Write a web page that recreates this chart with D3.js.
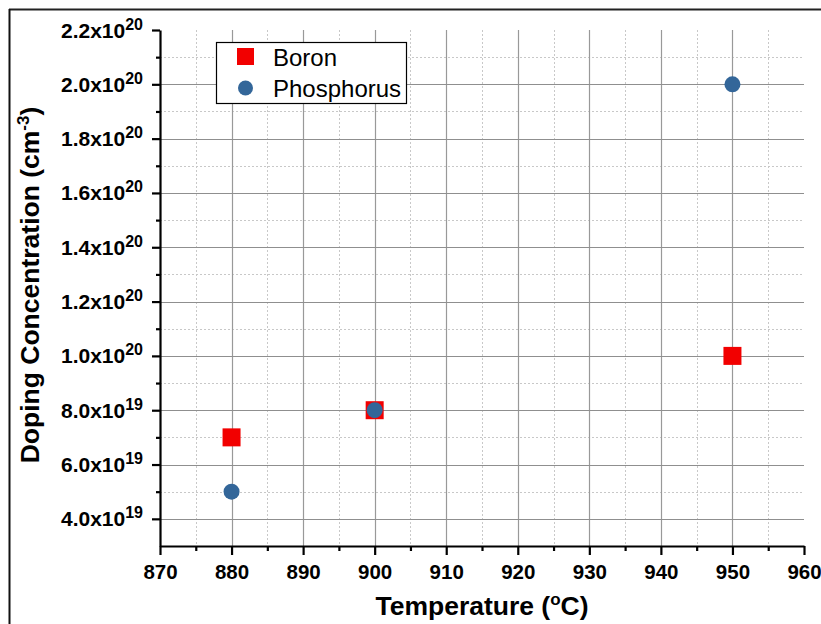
<!DOCTYPE html>
<html><head><meta charset="utf-8">
<script src="https://cdn.jsdelivr.net/npm/d3@7"></script>
<style>
html,body{margin:0;padding:0;background:#fff;}
svg{display:block;font-family:"Liberation Sans",Arial,sans-serif;}
</style></head>
<body>
<script>
// ---- data ----
const temperatures = [880, 900, 950];
const boronValues = [7.0e19, 8.0e19, 1.0e20];
const phosphorusValues = [5.0e19, 8.0e19, 2.0e20];
const seriesNames = ["Boron", "Phosphorus"];
const xTickValues = [870, 880, 890, 900, 910, 920, 930, 940, 950, 960];
const xMinorTicks = [875, 885, 895, 905, 915, 925, 935, 945, 955];
const yTickValues = [4e19, 6e19, 8e19, 1e20, 1.2e20, 1.4e20, 1.6e20, 1.8e20, 2.0e20, 2.2e20];
const yMinorTicks = [5e19, 7e19, 9e19, 1.1e20, 1.3e20, 1.5e20, 1.7e20, 1.9e20, 2.1e20];
const xTitle = "Temperature (";
const yTitle = "Doping Concentration (cm";

const W = 821, H = 624;
const svg = d3.select("body").append("svg").attr("width", W).attr("height", H);
svg.append("rect").attr("width", W).attr("height", H).attr("fill", "#fff");

// outer frame (cropped figure border)
svg.append("line").attr("x1", 9).attr("x2", W).attr("y1", 9.5).attr("y2", 9.5).attr("stroke", "#222").attr("stroke-width", 2);
svg.append("line").attr("x1", 9.5).attr("x2", 9.5).attr("y1", 9).attr("y2", H).attr("stroke", "#111").attr("stroke-width", 2);

const x = d3.scaleLinear().domain([870, 960]).range([160, 804]);
const y = d3.scaleLinear().domain([3e19, 2.2e20]).range([546, 30]);

const grid = svg.append("g");
// minor grid
grid.selectAll(".vmin").data(xMinorTicks).join("line")
  .attr("x1", d => Math.round(x(d)) + 0.5).attr("x2", d => Math.round(x(d)) + 0.5)
  .attr("y1", y.range()[1]).attr("y2", y.range()[0])
  .attr("stroke", "#c8c8c8").attr("stroke-width", 1).attr("stroke-dasharray", "2,2");
grid.selectAll(".hmin").data(yMinorTicks).join("line")
  .attr("x1", x.range()[0]).attr("x2", x.range()[1])
  .attr("y1", d => Math.round(y(d)) + 0.5).attr("y2", d => Math.round(y(d)) + 0.5)
  .attr("stroke", "#c8c8c8").attr("stroke-width", 1).attr("stroke-dasharray", "2,2");
// major grid
grid.selectAll(".vmaj").data(xTickValues.slice(1, -1)).join("line")
  .attr("x1", d => Math.round(x(d)) + 0.5).attr("x2", d => Math.round(x(d)) + 0.5)
  .attr("y1", y.range()[1]).attr("y2", y.range()[0])
  .attr("stroke", "#999").attr("stroke-width", 1.2);
grid.selectAll(".hmaj").data(yTickValues.slice(0, -1)).join("line")
  .attr("x1", x.range()[0]).attr("x2", x.range()[1])
  .attr("y1", d => Math.round(y(d)) + 0.5).attr("y2", d => Math.round(y(d)) + 0.5)
  .attr("stroke", "#8f8f8f").attr("stroke-width", 1.2);

// axes
const xAxis = svg.append("g").attr("transform", "translate(0,546)")
  .call(d3.axisBottom(x).tickValues(xTickValues).tickSize(9).tickSizeOuter(0).tickFormat(d3.format("d")));
svg.append("g").attr("transform", "translate(0,546)")
  .call(d3.axisBottom(x).tickValues(xMinorTicks).tickSize(5).tickSizeOuter(0).tickFormat(""))
  .call(g => g.select(".domain").remove());
xAxis.selectAll("text").attr("font-size", 20.5).attr("font-weight", "bold").attr("fill", "#000")
  .attr("font-family", "Liberation Sans, Arial, sans-serif").attr("dy", "1.02em");

const yAxis = svg.append("g").attr("transform", "translate(160,0)")
  .call(d3.axisLeft(y).tickValues(yTickValues).tickSize(8).tickSizeOuter(0).tickFormat(""));
svg.append("g").attr("transform", "translate(160,0)")
  .call(d3.axisLeft(y).tickValues(yMinorTicks).tickSize(4).tickSizeOuter(0).tickFormat(""))
  .call(g => g.select(".domain").remove());

svg.selectAll(".domain").attr("stroke", "#000").attr("stroke-width", 2.2);
svg.selectAll(".tick line").attr("stroke", "#000").attr("stroke-width", 2.2);

// y tick labels with superscript exponents
yAxis.selectAll(".tick").each(function(d) {
  const exp = Math.floor(Math.log10(d) + 1e-9);
  const mant = (d / Math.pow(10, exp)).toFixed(1);
  const t = d3.select(this).append("text")
    .attr("x", -17).attr("y", 7).attr("text-anchor", "end")
    .attr("fill", "#000").attr("font-weight", "bold").attr("font-size", 21)
    .attr("font-family", "Liberation Sans, Arial, sans-serif");
  t.append("tspan").text(mant + "x10");
  t.append("tspan").attr("font-size", 16).attr("dy", -8).text(exp);
});

// axis titles
const xt = svg.append("text").attr("x", 482).attr("y", 615).attr("text-anchor", "middle")
  .attr("font-size", 26.5).attr("font-weight", "bold").attr("fill", "#000");
xt.append("tspan").text(xTitle);
xt.append("tspan").attr("font-size", 17).attr("dy", -10).text("o");
xt.append("tspan").attr("dy", 10).text("C)");

const yt = svg.append("text").attr("transform", "translate(39,285) rotate(-90)").attr("text-anchor", "middle")
  .attr("font-size", 26.5).attr("font-weight", "bold").attr("fill", "#000");
yt.append("tspan").text(yTitle);
yt.append("tspan").attr("font-size", 17).attr("dy", -10).text("-3");
yt.append("tspan").attr("dy", 10).text(")");

// data points
const boronColor = "#f20000", phosColor = "#336699";
const sq = 18;
svg.append("g").selectAll("rect").data(temperatures.map((t, i) => [t, boronValues[i]])).join("rect")
  .attr("x", d => x(d[0]) - sq / 2).attr("y", d => y(d[1]) - sq / 2)
  .attr("width", sq).attr("height", sq).attr("fill", boronColor);
svg.append("g").selectAll("circle").data(temperatures.map((t, i) => [t, phosphorusValues[i]])).join("circle")
  .attr("cx", d => x(d[0])).attr("cy", d => y(d[1])).attr("r", 8).attr("fill", phosColor);

// legend
const lg = svg.append("g");
lg.append("rect").attr("x", 216.5).attr("y", 42.5).attr("width", 190).attr("height", 61)
  .attr("fill", "#fff").attr("stroke", "#000").attr("stroke-width", 1.2);
lg.append("rect").attr("x", 237).attr("y", 48).attr("width", 17).attr("height", 17).attr("fill", boronColor);
lg.append("circle").attr("cx", 245.5).attr("cy", 88).attr("r", 7.5).attr("fill", phosColor);
lg.selectAll("text").data(seriesNames).join("text")
  .attr("x", 273).attr("y", (d, i) => 65.5 + i * 31)
  .attr("font-size", 24).attr("fill", "#000").text(d => d);
</script>
</body></html>
